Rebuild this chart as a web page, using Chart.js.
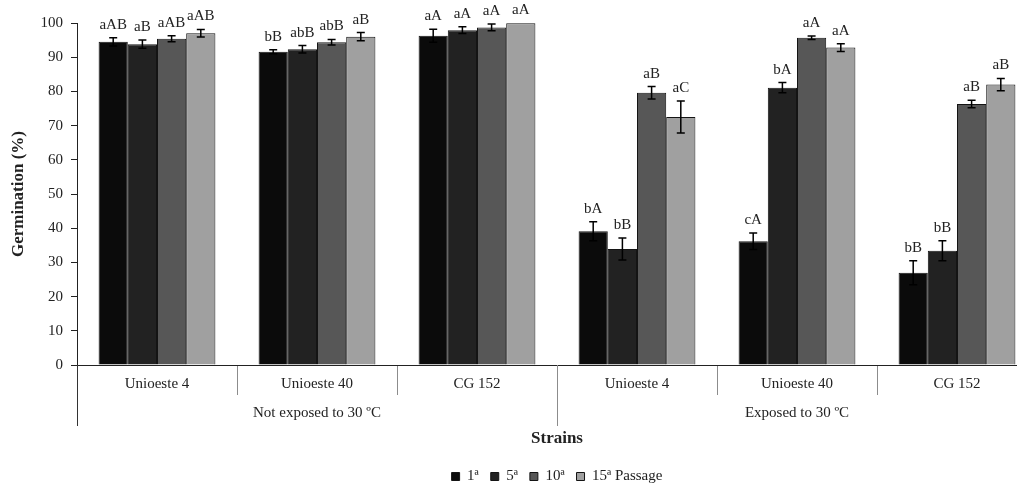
<!DOCTYPE html>
<html>
<head>
<meta charset="utf-8">
<script src="https://cdn.jsdelivr.net/npm/chart.js@4/dist/chart.umd.min.js"></script>
<style>
  html, body { margin: 0; padding: 0; background: #fff; overflow: hidden; }
  #wrap { width: 1116px; height: 484px; }
</style>
</head>
<body>
<div id="wrap"><canvas id="chart" width="1116" height="484"></canvas></div>
<script>
// strains (x categories) and the two exposure groups
const strains = ['Unioeste 4', 'Unioeste 40', 'CG 152', 'Unioeste 4', 'Unioeste 40', 'CG 152'];
const groups = ['Not exposed to 30 ºC', 'Exposed to 30 ºC'];
const passages = ['1ª', '5ª', '10ª', '15ª Passage'];

// germination (%) per passage, one value per strain
const pass1 = [94.5, 91.6, 96.3, 39.1, 36.2, 27.0];
const pass5 = [93.8, 92.3, 97.9, 33.9, 81.1, 33.4];
const pass10 = [95.4, 94.4, 98.7, 79.6, 95.7, 76.3];
const pass15 = [97.0, 96.0, 99.9, 72.5, 92.8, 82.0];

// standard errors
const err1 = [1.2, 0.6, 1.9, 2.8, 2.4, 3.5];
const err5 = [1.2, 1.1, 1.0, 3.2, 1.5, 2.9];
const err10 = [0.9, 0.8, 1.0, 1.8, 0.5, 1.1];
const err15 = [1.1, 1.2, 0, 4.7, 1.1, 1.8];

// significance letters
const lab1 = ['aAB', 'bB', 'aA', 'bA', 'cA', 'bB'];
const lab5 = ['aB', 'abB', 'aA', 'bB', 'bA', 'bB'];
const lab10 = ['aAB', 'abB', 'aA', 'aB', 'aA', 'aB'];
const lab15 = ['aAB', 'aB', 'aA', 'aC', 'aA', 'aB'];

const yTicks = [0, 10, 20, 30, 40, 50, 60, 70, 80, 90, 100];

const serif = '"Liberation Serif", "Times New Roman", serif';
Chart.defaults.font.family = serif;
Chart.defaults.color = '#222';

const errors = [err1, err5, err10, err15];
const letters = [lab1, lab5, lab10, lab15];
const fills = ['#0b0b0b', '#222222', '#575757', '#a0a0a0'];

// error bars, letters, lower axis dividers and group names
const extras = {
    id: 'extras',
    afterDatasetsDraw(chart) {
        const ctx = chart.ctx;
        const y = chart.scales.y;
        ctx.save();
        ctx.font = '15px ' + serif;
        ctx.textAlign = 'center';
        ctx.textBaseline = 'alphabetic';
        chart.data.datasets.forEach((ds, d) => {
            const meta = chart.getDatasetMeta(d);
            meta.data.forEach((bar, i) => {
                const v = ds.data[i];
                const e = errors[d][i];
                const top = y.getPixelForValue(v + e);
                const bot = y.getPixelForValue(v - e);
                if (e > 0) {
                    ctx.strokeStyle = '#000';
                    ctx.lineWidth = 1.5;
                    ctx.beginPath();
                    ctx.moveTo(bar.x, top);
                    ctx.lineTo(bar.x, bot);
                    ctx.moveTo(bar.x - 4, top);
                    ctx.lineTo(bar.x + 4, top);
                    ctx.moveTo(bar.x - 4, bot);
                    ctx.lineTo(bar.x + 4, bot);
                    ctx.stroke();
                }
                ctx.fillStyle = '#222';
                ctx.fillText(letters[d][i], bar.x, top - 9);
            });
        });
        ctx.restore();
    },
    afterDraw(chart) {
        const ctx = chart.ctx;
        const x = chart.scales.x;
        const base = chart.chartArea.bottom;
        ctx.save();
        [-0.5, 2.5, 5.5].forEach((p, k) => {
            const px = Math.round(x.getPixelForValue(p)) + 0.5;
            ctx.strokeStyle = k === 0 ? '#333' : '#8c8c8c';
            ctx.lineWidth = 1;
            ctx.beginPath();
            ctx.moveTo(px, base);
            ctx.lineTo(px, base + 61);
            ctx.stroke();
        });
        ctx.font = '15px ' + serif;
        ctx.fillStyle = '#222';
        ctx.textAlign = 'center';
        ctx.textBaseline = 'middle';
        ctx.fillText(groups[0], x.getPixelForValue(1), base + 48);
        ctx.fillText(groups[1], x.getPixelForValue(4), base + 48);
        ctx.restore();
    }
};

new Chart(document.getElementById('chart'), {
    type: 'bar',
    data: {
        labels: strains,
        datasets: [pass1, pass5, pass10, pass15].map((vals, d) => ({
            label: passages[d],
            data: vals,
            backgroundColor: fills[d],
            borderColor: '#141414',
            borderWidth: 1,
            categoryPercentage: 0.73,
            barPercentage: 1.0
        }))
    },
    options: {
        responsive: false,
        animation: false,
        devicePixelRatio: 1,
        layout: { padding: { left: 0, right: 79, top: 23, bottom: -10 } },
        plugins: {
            tooltip: { enabled: false },
            legend: {
                position: 'bottom',
                fullSize: false,
                labels: {
                    boxWidth: 8,
                    boxHeight: 8,
                    padding: 12,
                    color: '#222',
                    font: { size: 15, family: serif }
                }
            }
        },
        scales: {
            x: {
                afterFit(scale) { scale.height = 92; },
                grid: {
                    offset: true,
                    drawOnChartArea: false,
                    drawTicks: true,
                    tickLength: 30,
                    color: '#8c8c8c'
                },
                border: { color: '#222', width: 1 },
                ticks: {
                    padding: -20,
                    maxRotation: 0,
                    autoSkip: false,
                    color: '#222',
                    font: { size: 15, family: serif }
                },
                title: {
                    display: true,
                    text: 'Strains',
                    color: '#222',
                    padding: { top: 0, bottom: 8 },
                    font: { size: 17, weight: 'bold', family: serif }
                }
            },
            y: {
                min: 0,
                max: 100,
                afterFit(scale) { scale.width = 77; },
                afterBuildTicks(scale) { scale.ticks = yTicks.map(v => ({ value: v })); },
                grid: {
                    drawOnChartArea: false,
                    drawTicks: true,
                    tickLength: 6,
                    color: '#222'
                },
                border: { color: '#222', width: 1 },
                ticks: {
                    padding: 8,
                    color: '#222',
                    font: { size: 15, family: serif }
                },
                title: {
                    display: true,
                    text: 'Germination (%)',
                    color: '#222',
                    padding: { top: 8, bottom: 0 },
                    font: { size: 17, weight: 'bold', family: serif }
                }
            }
        }
    },
    plugins: [extras]
});
</script>
</body>
</html>
